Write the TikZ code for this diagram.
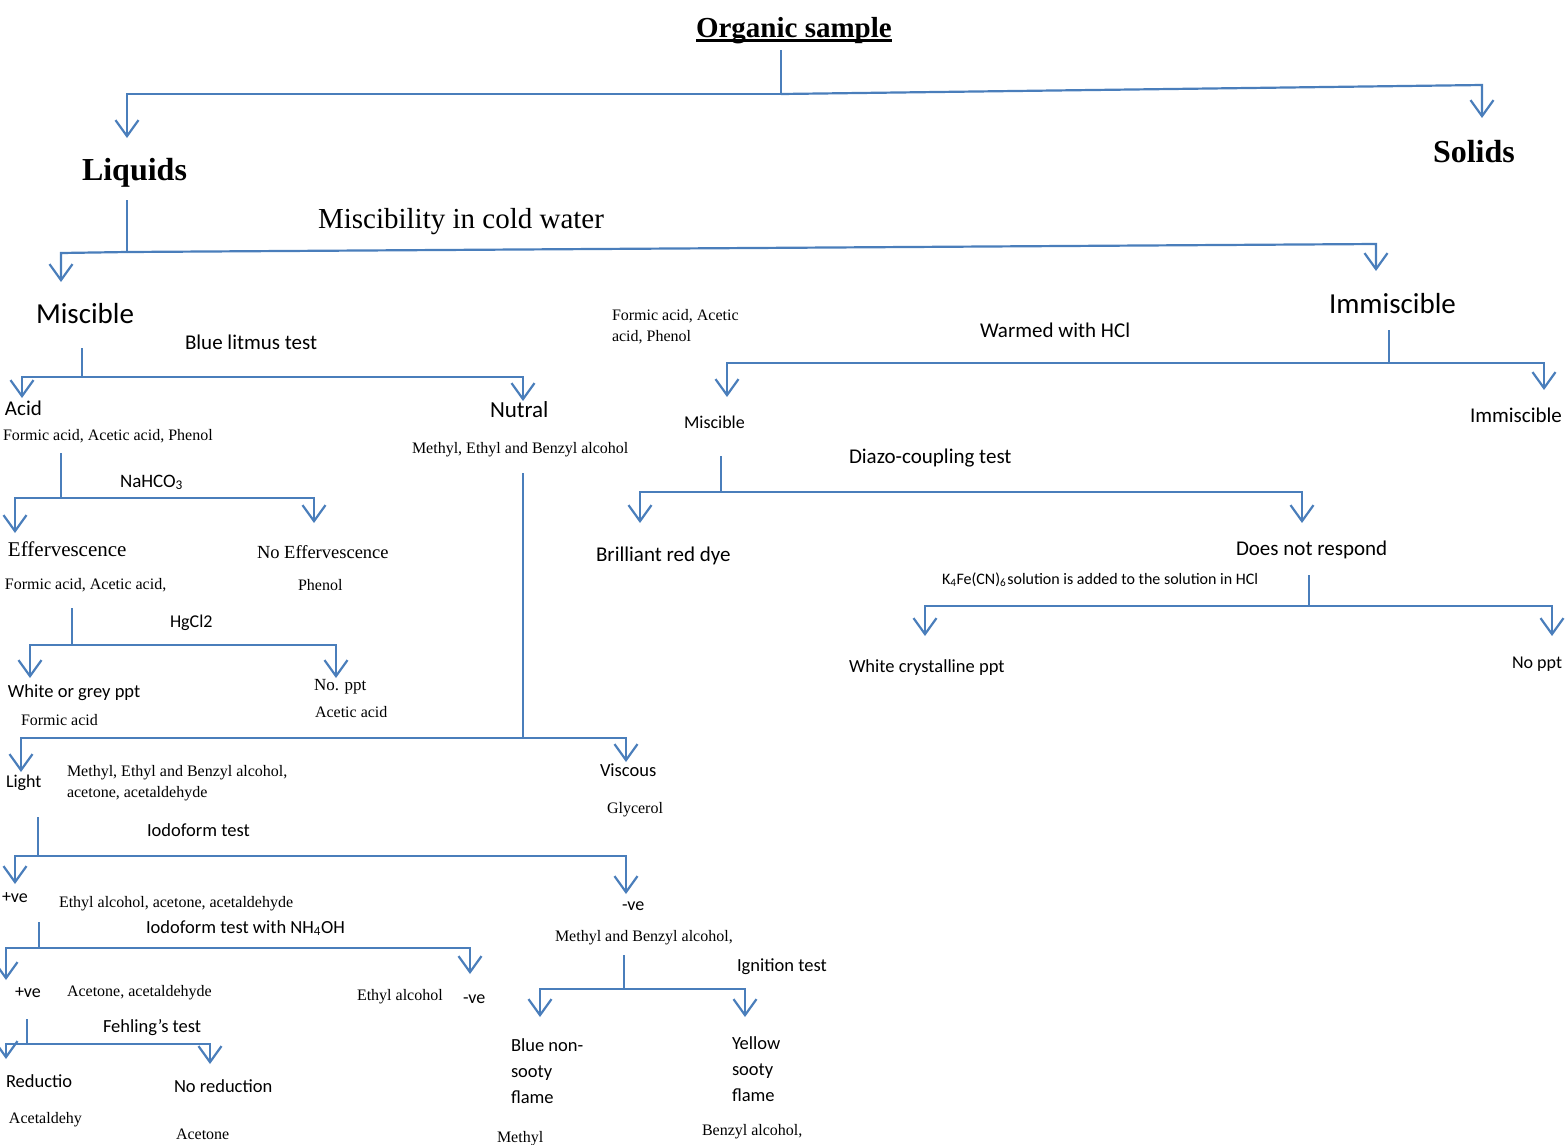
\documentclass[tikz,border=0pt]{standalone}
\usepackage{fontspec}
\setmainfont{Liberation Serif}
\newfontfamily\calib{Carlito}
\usetikzlibrary{arrows.meta}
\definecolor{lineblue}{RGB}{74,126,187}
\newcommand{\thickul}[1]{{\setbox0\hbox{#1}\rlap{\rule[-4.5pt]{\wd0}{2.4pt}}\box0}}
\tikzset{
  lbl/.style={anchor=base west, inner sep=0pt, outer sep=0pt},
  tr/.style={lbl, font=\fontsize{#1}{#1}\selectfont},
  trb/.style={lbl, font=\bfseries\fontsize{#1}{#1}\selectfont},
  cb/.style={lbl, font=\calib\fontsize{#1}{#1}\selectfont},
  cbm/.style={lbl, align=left, font=\calib\fontsize{18.5}{26}\selectfont},
  trm/.style={lbl, align=left, font=\fontsize{16}{21}\selectfont},
  conn/.style={draw=lineblue, line width=2.2pt},
  arr/.style={conn, -{Straight Barb[length=16pt, width=23pt, line width=2.2pt]}}
}
\begin{document}
\begin{tikzpicture}[x=1pt, y=-1pt]
\useasboundingbox (0,0) rectangle (1568,1144);

% ---------- texts ----------
\node[trb=29] (org) at (696,37) {\thickul{Organic sample}};
\node[trb=32] (liq) at (82,180) {Liquids};
\node[trb=32] (sol) at (1433,162) {Solids};
\node[tr=29] (mcw) at (318,228) {Miscibility in cold water};
\node[cb=29] (mis) at (36,323) {Miscible};
\node[cb=21] (blt) at (185,349) {Blue litmus test};
\node[trm] (fap) at (612,341) {Formic acid, Acetic\\acid, Phenol};
\node[cb=29] (imm) at (1329,313) {Immiscible};
\node[cb=21] (wh) at (980,337) {Warmed with HCl};

\node[cb=21] (acid) at (5,415) {Acid};
\node[tr=16] (acidl) at (3,440) {Formic acid, Acetic acid, Phenol};
\node[cb=23] (nut) at (490,417) {Nutral};
\node[tr=16] (nutl) at (412,453) {Methyl, Ethyl and Benzyl alcohol};
\node[cb=18] (mis2) at (684,428) {Miscible};
\node[cb=21] (imm2) at (1470,422) {Immiscible};
\node[cb=21] (diazo) at (849,463) {Diazo-coupling test};

\node[cb=19] (nahco) at (120,487) {NaHCO\textsubscript{3}};
\node[tr=21] (eff) at (8,556) {Effervescence};
\node[tr=18.5] (neff) at (257,558) {No Effervescence};
\node[tr=16] (effl) at (5,589) {Formic acid, Acetic acid,};
\node[tr=16] (phen) at (298,590) {Phenol};
\node[cb=21] (brd) at (596,561) {Brilliant red dye};
\node[cb=21] (dnr) at (1236,555) {Does not respond};
\node[cb=16] (k4) at (942,584) {K\textsubscript{4}Fe(CN)\textsubscript{6}\kern1pt solution is added to the solution in HCl};

\node[cb=18] (hg) at (170,627) {HgCl2};
\node[cb=18.5] (wgp) at (8,697) {White or grey ppt};
\node[tr=17] (nop) at (314,690) {No. ppt};
\node[tr=16] (aca) at (315,717) {Acetic acid};
\node[tr=16] (foa) at (21,725) {Formic acid};
\node[cb=18.5] (wcp) at (849,672) {White crystalline ppt};
\node[cb=18] (nop2) at (1512,668) {No ppt};

\node[cb=18] (light) at (6,787) {Light};
\node[trm] (lightl) at (67,797) {Methyl, Ethyl and Benzyl alcohol,\\acetone, acetaldehyde};
\node[cb=18.5] (visc) at (600,776) {Viscous};
\node[tr=16] (gly) at (607,813) {Glycerol};
\node[cb=18.5] (iod) at (147,836) {Iodoform test};
\node[cb=18] (pve) at (2,902) {+ve};
\node[tr=16] (pvel) at (59,907) {Ethyl alcohol, acetone, acetaldehyde};
\node[cb=18] (nve) at (622,910) {-ve};
\node[cb=18.5] (iodn) at (146,933) {Iodoform test with NH\textsubscript{4}OH};
\node[tr=16] (nvel) at (555,941) {Methyl and Benzyl alcohol,};
\node[cb=18] (pve2) at (15,997) {+ve};
\node[tr=16] (pve2l) at (67,996) {Acetone, acetaldehyde};
\node[tr=16] (eta) at (357,1000) {Ethyl alcohol};
\node[cb=18] (nve2) at (463,1003) {-ve};
\node[cb=18.5] (ign) at (737,971) {Ignition test};
\node[cb=18.5] (feh) at (103,1032) {Fehling’s test};
\node[cb=18.5] (red) at (6,1087) {Reductio};
\node[cb=18.5] (nred) at (174,1092) {No reduction};
\node[cbm] (blue) at (511,1103) {Blue non-\\sooty\\flame};
\node[cbm] (yel) at (732,1101) {Yellow\\sooty\\flame};
\node[tr=16] (acet) at (9,1123) {Acetaldehy};
\node[tr=16] (acto) at (176,1139) {Acetone};
\node[tr=16] (meth) at (497,1142) {Methyl};
\node[tr=16] (benz) at (702,1135) {Benzyl alcohol,};

% ---------- connector points ----------
% root
\coordinate (aS) at (781,50);  \coordinate (aJ) at (781,94);
\coordinate (aL) at (127,94);  \coordinate (aLT) at (127,138);
\coordinate (aR) at (1482,85); \coordinate (aRT) at (1482,118);
% liquids
\coordinate (bS) at (127,200); \coordinate (bJ) at (127,252);
\coordinate (bL) at (61,253);  \coordinate (bLT) at (61,282);
\coordinate (bR) at (1376,244); \coordinate (bRT) at (1376,271);
% miscible
\coordinate (cS) at (82,348);  \coordinate (cJ) at (82,377);
\coordinate (cL) at (22,377);  \coordinate (cLT) at (22,398);
\coordinate (cR) at (523,377); \coordinate (cRT) at (523,401);
% immiscible
\coordinate (dS) at (1389,330); \coordinate (dJ) at (1389,363);
\coordinate (dL) at (727,363);  \coordinate (dLT) at (727,397);
\coordinate (dR) at (1544,363); \coordinate (dRT) at (1544,390);
% acid
\coordinate (eS) at (61,453);  \coordinate (eJ) at (61,498);
\coordinate (eL) at (15,498);  \coordinate (eLT) at (15,533);
\coordinate (eR) at (314,498); \coordinate (eRT) at (314,523);
% effervescence
\coordinate (fS) at (72,608);  \coordinate (fJ) at (72,645);
\coordinate (fL) at (30,645);  \coordinate (fLT) at (30,678);
\coordinate (fR) at (336,645); \coordinate (fRT) at (336,678);
% nutral
\coordinate (gS) at (523,473); \coordinate (gJ) at (523,738);
\coordinate (gL) at (21,738);  \coordinate (gLT) at (21,772);
\coordinate (gR) at (626,738); \coordinate (gRT) at (626,762);
% miscible (HCl)
\coordinate (hS) at (721,456); \coordinate (hJ) at (721,492);
\coordinate (hL) at (640,492); \coordinate (hLT) at (640,523);
\coordinate (hR) at (1302,492); \coordinate (hRT) at (1302,523);
% does not respond
\coordinate (iS) at (1309,575); \coordinate (iJ) at (1309,606);
\coordinate (iL) at (925,606);  \coordinate (iLT) at (925,636);
\coordinate (iR) at (1552,606); \coordinate (iRT) at (1552,636);
% light
\coordinate (jS) at (38,817);  \coordinate (jJ) at (38,856);
\coordinate (jL) at (15,856);  \coordinate (jLT) at (15,884);
\coordinate (jR) at (626,856); \coordinate (jRT) at (626,894);
% +ve
\coordinate (kS) at (39,922);  \coordinate (kJ) at (39,948);
\coordinate (kL) at (6,948);   \coordinate (kLT) at (6,980);
\coordinate (kR) at (470,948); \coordinate (kRT) at (470,974);
% -ve
\coordinate (lS) at (624,955); \coordinate (lJ) at (624,989);
\coordinate (lL) at (540,989); \coordinate (lLT) at (540,1017);
\coordinate (lR) at (745,989); \coordinate (lRT) at (745,1017);
% +ve 2
\coordinate (mS) at (27,1019); \coordinate (mJ) at (27,1044);
\coordinate (mL) at (6,1044);  \coordinate (mLT) at (6,1059);
\coordinate (mR) at (210,1044); \coordinate (mRT) at (210,1064);

% ---------- connectors ----------
\foreach \b in {a,b,c,d,e,f,g,h,i,j,k,l,m}{
  \draw[conn] (\b S) -- (\b J);
  \draw[arr] (\b J) -- (\b L) -- (\b LT);
  \draw[arr] (\b J) -- (\b R) -- (\b RT);
}
\end{tikzpicture}
\end{document}
